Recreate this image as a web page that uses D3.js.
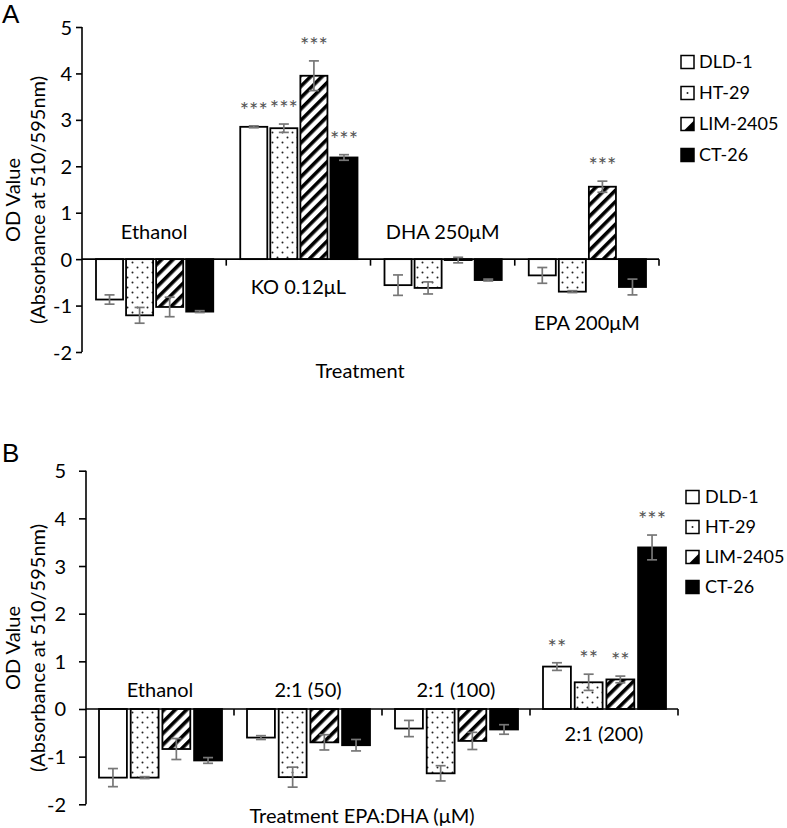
<!DOCTYPE html>
<html>
<head>
<meta charset="utf-8">
<script src="https://cdn.jsdelivr.net/npm/d3@7/dist/d3.min.js"></script>
<style>
  html, body { margin: 0; padding: 0; background: #fff; }
  svg text { font-family: Lato, "Open Sans", sans-serif; fill: #000; }
</style>
</head>
<body>
<script>
// ---------- DATA ----------
const seriesNames = ["DLD-1", "HT-29", "LIM-2405", "CT-26"];
const yTicks = [-2, -1, 0, 1, 2, 3, 4, 5];

// Panel A
const categoriesA = ["Ethanol", "KO 0.12μL", "DHA 250μM", "EPA 200μM"];
const dld1A = [-0.87, 2.85, -0.56, -0.35];
const ht29A = [-1.21, 2.82, -0.62, -0.70];
const lim2405A = [-1.03, 3.95, -0.02, 1.56];
const ct26A = [-1.13, 2.19, -0.45, -0.60];
const dld1ErrA = [0.10, 0.02, 0.22, 0.17];
const ht29ErrA = [0.17, 0.09, 0.13, 0.02];
const lim2405ErrA = [0.21, 0.32, 0.06, 0.12];
const ct26ErrA = [0.02, 0.06, 0.02, 0.17];
const dld1SigA = ["", "***", "", ""];
const ht29SigA = ["", "***", "", ""];
const lim2405SigA = ["", "***", "", "***"];
const ct26SigA = ["", "***", "", ""];

// Panel B
const categoriesB = ["Ethanol", "2:1 (50)", "2:1 (100)", "2:1 (200)"];
const dld1B = [-1.44, -0.60, -0.41, 0.89];
const ht29B = [-1.44, -1.43, -1.35, 0.56];
const lim2405B = [-0.84, -0.70, -0.67, 0.62];
const ct26B = [-1.08, -0.76, -0.43, 3.39];
const dld1ErrB = [0.19, 0.04, 0.17, 0.08];
const ht29ErrB = [0.02, 0.21, 0.16, 0.17];
const lim2405ErrB = [0.22, 0.16, 0.18, 0.07];
const ct26ErrB = [0.06, 0.12, 0.10, 0.26];
const dld1SigB = ["", "", "", "**"];
const ht29SigB = ["", "", "", "**"];
const lim2405SigB = ["", "", "", "**"];
const ct26SigB = ["", "", "", "***"];

// ---------- DRAW ----------
const svg = d3.select("body").append("svg")
  .attr("width", 787).attr("height", 828);
svg.append("rect").attr("width", 787).attr("height", 828).attr("fill", "#fff");

const defs = svg.append("defs");
const dots = defs.append("pattern").attr("id", "dots")
  .attr("patternUnits", "userSpaceOnUse").attr("width", 10).attr("height", 10);
dots.append("rect").attr("width", 10).attr("height", 10).attr("fill", "#fff");
dots.append("circle").attr("cx", 2.5).attr("cy", 2.5).attr("r", 1).attr("fill", "#222");
dots.append("circle").attr("cx", 7.5).attr("cy", 7.5).attr("r", 1).attr("fill", "#222");
const hatch = defs.append("pattern").attr("id", "hatch")
  .attr("patternUnits", "userSpaceOnUse").attr("width", 8).attr("height", 8)
  .attr("patternTransform", "rotate(45)");
hatch.append("rect").attr("width", 8).attr("height", 8).attr("fill", "#fff");
hatch.append("rect").attr("width", 3.6).attr("height", 8).attr("fill", "#000");

const fills = ["#fff", "url(#dots)", "url(#hatch)", "#000"];

function drawPanel(cfg) {
  const g = svg.append("g");
  const y = d3.scaleLinear().domain([-2, 5]).range([cfg.yBottom, cfg.yTop]);
  const x = d3.scaleBand().domain(cfg.categories).range([cfg.xLeft, cfg.xRight]);
  const xi = d3.scaleBand().domain(seriesNames)
    .range([cfg.groupPadL, x.bandwidth() - cfg.groupPadR]).paddingInner(cfg.barPad);

  const series = seriesNames.map((name, si) => ({
    name, si, vals: cfg.values[si], errs: cfg.errs[si], sigs: cfg.sigs[si]
  }));

  // bars
  series.forEach(s => {
    cfg.categories.forEach((c, ci) => {
      const v = s.vals[ci];
      const x0 = x(c) + xi(s.name);
      g.append("rect")
        .attr("x", x0).attr("width", xi.bandwidth())
        .attr("y", Math.min(y(v), y(0)))
        .attr("height", Math.abs(y(v) - y(0)))
        .attr("fill", fills[s.si])
        .attr("stroke", "#000").attr("stroke-width", 1.8);
    });
  });

  // zero axis + category ticks
  const y0 = y(0);
  g.append("line").attr("x1", cfg.xLeft).attr("x2", cfg.xRight)
    .attr("y1", y0).attr("y2", y0).attr("stroke", "#000").attr("stroke-width", 1.6);
  cfg.categories.forEach((c, ci) => {
    const xt = x(c) + x.bandwidth();
    g.append("line").attr("x1", xt).attr("x2", xt).attr("y1", y0).attr("y2", y0 + 6.5)
      .attr("stroke", "#000").attr("stroke-width", 1.6);
  });

  // error bars + significance
  const sg = g.append("g").attr("opacity", 0.999);
  series.forEach(s => {
    cfg.categories.forEach((c, ci) => {
      const v = s.vals[ci], e = s.errs[ci];
      const cx = x(c) + xi(s.name) + xi.bandwidth() / 2;
      const eg = g.append("g").attr("stroke", "#777").attr("stroke-width", 1.7);
      eg.append("line").attr("x1", cx).attr("x2", cx).attr("y1", y(v - e)).attr("y2", y(v + e));
      eg.append("line").attr("x1", cx - 5).attr("x2", cx + 5).attr("y1", y(v - e)).attr("y2", y(v - e));
      eg.append("line").attr("x1", cx - 5).attr("x2", cx + 5).attr("y1", y(v + e)).attr("y2", y(v + e));
      if (s.sigs[ci]) {
        sg.append("text").attr("x", cx).attr("y", y(v + e) - 8)
          .attr("text-anchor", "middle").attr("font-size", 22)
          .style("fill", "#555").text(s.sigs[ci]);
      }
    });
  });

  // category labels
  cfg.categories.forEach((c, ci) => {
    const vals = series.map(s => s.vals[ci]);
    const lows = series.map(s => s.vals[ci] - s.errs[ci]);
    const hasPos = d3.max(vals) > 0.1;
    const cx = x(c) + x.bandwidth() / 2;
    let ly;
    if (hasPos) {
      ly = y(Math.min(0, d3.min(lows))) + cfg.labelBelow;
    } else {
      ly = y0 - cfg.labelAbove;
    }
    g.append("text").attr("x", cx).attr("y", ly).attr("text-anchor", "middle")
      .attr("font-size", 20).text(c);
  });

  // y axis
  const ya = g.append("g").attr("transform", `translate(${cfg.xLeft},0)`)
    .call(d3.axisLeft(y).tickValues(yTicks).tickSize(cfg.tickLen).tickPadding(cfg.tickPad)
      .tickFormat(d => String(d)));
  ya.select(".domain").attr("stroke", "#000").attr("stroke-width", 1.6)
    .attr("d", `M0,${cfg.yTop}V${cfg.yBottom}`);
  ya.selectAll(".tick line").attr("stroke", "#000").attr("stroke-width", 1.6);
  ya.selectAll(".tick text").attr("font-size", 20).attr("font-family", "Lato, sans-serif")
    .attr("fill", "#000").attr("dy", "0.35em");

  // y axis title
  const yc = cfg.yTitleY;
  g.append("text").attr("transform", `translate(20,${yc}) rotate(-90)`)
    .attr("text-anchor", "middle").attr("font-size", 20).text("OD Value");
  g.append("text").attr("transform", `translate(45,${yc}) rotate(-90)`)
    .attr("text-anchor", "middle").attr("font-size", 20).text("(Absorbance at 510/595nm)");

  // x axis title
  g.append("text").attr("x", cfg.xTitleX).attr("y", cfg.xTitleY).attr("text-anchor", "middle")
    .attr("font-size", 20).text(cfg.xTitle);

  // panel letter
  g.append("text").attr("x", cfg.letterX).attr("y", cfg.letterY)
    .style("font-family", "'Liberation Sans', Arial, sans-serif")
    .attr("font-size", 26).text(cfg.letter);

  // legend
  const lg = g.append("g");
  seriesNames.forEach((name, i) => {
    const cy = cfg.legY + i * cfg.legStep;
    const sx = cfg.legX, sz = 13;
    lg.append("rect").attr("x", sx).attr("y", cy - sz / 2).attr("width", sz).attr("height", sz)
      .attr("fill", i === 3 ? "#000" : "#fff").attr("stroke", "#000").attr("stroke-width", 1.5);
    if (i === 1) {
      lg.append("circle").attr("cx", sx + sz / 2).attr("cy", cy).attr("r", 1).attr("fill", "#222");
    }
    if (i === 2) {
      lg.append("path")
        .attr("d", `M${sx + 3},${cy + sz / 2}L${sx + sz},${cy - sz / 2 + 3}L${sx + sz},${cy + sz / 2}Z`)
        .attr("fill", "#000");
    }
    lg.append("text").attr("x", cfg.legTextX).attr("y", cy).attr("dy", "0.36em")
      .attr("font-size", 18).text(name);
  });
}

drawPanel({
  letter: "A", letterX: 2, letterY: 23,
  categories: categoriesA,
  values: [dld1A, ht29A, lim2405A, ct26A],
  errs: [dld1ErrA, ht29ErrA, lim2405ErrA, ct26ErrA],
  sigs: [dld1SigA, ht29SigA, lim2405SigA, ct26SigA],
  xLeft: 82, xRight: 659, yTop: 27, yBottom: 352,
  groupPadL: 14, groupPadR: 13, barPad: 0.1,
  tickLen: 6, tickPad: 4,
  labelAbove: 20, labelBelow: 35,
  yTitleY: 200,
  xTitle: "Treatment", xTitleX: 360, xTitleY: 378,
  legX: 681, legTextX: 699, legY: 62, legStep: 31
});

drawPanel({
  letter: "B", letterX: 2, letterY: 462,
  categories: categoriesB,
  values: [dld1B, ht29B, lim2405B, ct26B],
  errs: [dld1ErrB, ht29ErrB, lim2405ErrB, ct26ErrB],
  sigs: [dld1SigB, ht29SigB, lim2405SigB, ct26SigB],
  xLeft: 86, xRight: 678, yTop: 470.7, yBottom: 804.3,
  groupPadL: 13, groupPadR: 12, barPad: 0.12,
  tickLen: 7, tickPad: 13,
  labelAbove: 12, labelBelow: 32,
  yTitleY: 648,
  xTitle: "Treatment EPA:DHA (μM)", xTitleX: 362, xTitleY: 823,
  legX: 686, legTextX: 705, legY: 497, legStep: 30
});
</script>
</body>
</html>
